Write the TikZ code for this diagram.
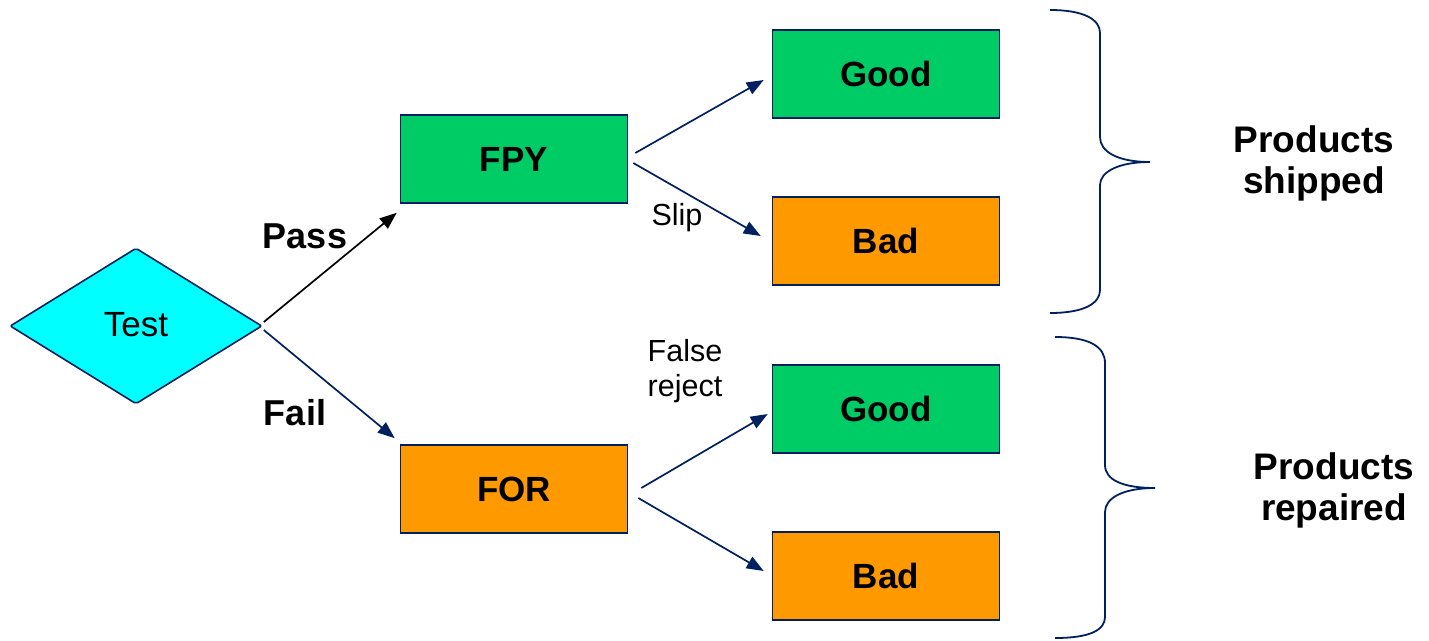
\documentclass[tikz,border=0pt]{standalone}
\usepackage{fontspec}
\setmainfont{Liberation Sans}
\usetikzlibrary{shapes.geometric,arrows.meta}
\definecolor{navy}{RGB}{0,32,96}
\definecolor{boxgreen}{RGB}{0,204,102}
\definecolor{boxorange}{RGB}{255,153,0}
\definecolor{testcyan}{RGB}{0,255,255}
\tikzset{
  box/.style={draw=navy, line width=1.6pt, minimum width=227pt, minimum height=88pt,
    inner sep=0pt, font=\fontsize{35}{41}\selectfont\bfseries},
  goodbox/.style={box, fill=boxgreen},
  badbox/.style={box, fill=boxorange},
  link/.style={draw=navy, line width=1.7pt, -{Triangle[length=17pt,width=13pt]}},
  biglabel/.style={font=\fontsize{36}{41}\selectfont\bfseries, align=center},
  sidelabel/.style={font=\fontsize{37}{41}\selectfont\bfseries, align=center},
  smalllabel/.style={font=\fontsize{30.5}{35}\selectfont, align=left},
  brace/.style={draw=navy, line width=1.8pt}
}
\begin{document}
\begin{tikzpicture}[x=1pt,y=-1pt]
\useasboundingbox (0,0) rectangle (1429,640);

% decision
\node[diamond, draw=navy, line width=1.6pt, fill=testcyan, minimum width=252pt,
  minimum height=156pt, inner sep=0pt, rounded corners=2pt,
  font=\fontsize{35}{41}\selectfont] (test) at (136,326) {\raisebox{4pt}{Test}};

% outcome boxes
\node[goodbox] (fpy) at (514,159) {FPY};
\node[badbox]  (for) at (514,489) {FOR};
\node[goodbox] (good1) at (886,74) {Good};
\node[badbox]  (bad1)  at (886,241) {Bad};
\node[goodbox] (good2) at (886,409) {Good};
\node[badbox]  (bad2)  at (886,576) {Bad};

% branches
\draw[link, draw=black] ([shift={(1,-4)}]test.east) -- ([shift={(-3,9)}]fpy.south west);
\draw[link] ([shift={(1,4)}]test.east) -- ([shift={(-5,-6)}]for.north west);
\draw[link] ([shift={(7,-6)}]fpy.east) -- ([shift={(-8,6)}]good1.west);
\draw[link] ([shift={(5,4)}]fpy.east) -- ([shift={(-11,-5)}]bad1.west);
\draw[link] ([shift={(13,-1)}]for.east) -- ([shift={(-4,5)}]good2.west);
\draw[link] ([shift={(10,9)}]for.east) -- ([shift={(-8,-5)}]bad2.west);

% branch labels
\node[biglabel] (pass) at (305,236) {Pass};
\node[biglabel] (fail) at (295,413) {Fail};
\node[smalllabel] (slip) at (677,218) {Slip};
\node[smalllabel] (falsereject) at (685,371) {False\\reject};

% braces
\draw[brace] (1050,10) .. controls (1085,10) and (1100,20) .. (1100,33)
  -- (1100,137) .. controls (1100,152) and (1118,162) .. (1150,162)
  .. controls (1118,162) and (1100,172) .. (1100,185)
  -- (1100,290) .. controls (1100,303) and (1085,313) .. (1050,313);
\draw[brace] (1055,337) .. controls (1090,337) and (1105,347) .. (1105,363)
  -- (1105,465) .. controls (1105,480) and (1123,488) .. (1155,488)
  .. controls (1123,488) and (1105,498) .. (1105,512)
  -- (1105,617) .. controls (1105,630) and (1090,638) .. (1055,638);

\node[sidelabel] (shipped) at (1314,163) {Products\\shipped};
\node[sidelabel] (repaired) at (1334,490) {Products\\repaired};
\end{tikzpicture}
\end{document}
